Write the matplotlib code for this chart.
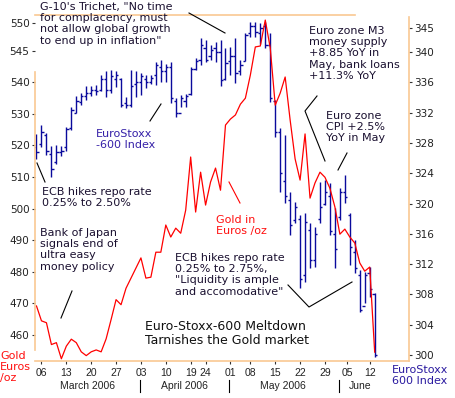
import numpy as np
import matplotlib.pyplot as plt
from matplotlib.lines import Line2D

# Gold in euros per ounce, one value per trading day (3 Mar - 13 Jun 2006)
gold = [469.2, 464.5, 463.9, 457.0, 457.6, 452.5, 456.5, 458.7, 457.6, 454.7,
        453.5, 454.7, 455.3, 454.7, 458.8, 464.9, 471.2, 469.6, 474.8, 478.0,
        481.2, 484.4, 478.0, 478.3, 486.2, 486.2, 494.8, 491.0, 493.8, 492.2,
        499.5, 516.3, 498.9, 511.5, 501.1, 508.4, 512.8, 505.8, 526.4, 528.3,
        529.6, 533.0, 534.9, 542.2, 551.1, 551.4, 559.6, 550.8, 532.7, 536.5,
        541.6, 528.0, 515.7, 509.0, 523.6, 503.3, 508.1, 511.5, 509.9, 506.4,
        500.5, 491.9, 493.5, 491.0, 489.1, 482.8, 480.2, 481.5, 454.6]

# EuroStoxx 600 daily bars
stoxx_high = [329.2, 330.4, 329.3, 327.6, 327.7, 327.6, 330.1, 332.7, 334.2, 334.6,
              335.5, 335.5, 335.6, 337.0, 337.5, 337.6, 337.5, 336.6, 334.1, 337.6,
              337.5, 337.2, 337.0, 337.0, 338.7, 338.9, 338.4, 338.7, 333.9, 334.3,
              334.5, 338.0, 339.2, 341.8, 341.6, 340.9, 341.3, 341.6, 340.5, 340.7,
              341.8, 338.9, 342.5, 344.0, 344.0, 343.8, 344.0, 342.5, 333.7, 330.0,
              329.0, 321.5, 320.2, 318.5, 318.7, 317.4, 316.9, 322.8, 323.1, 322.7,
              319.4, 322.0, 323.8, 318.7, 315.2, 311.2, 311.0, 311.6, 308.2]
stoxx_low = [325.9, 327.5, 326.4, 323.5, 325.2, 326.3, 326.9, 329.7, 331.9, 333.0,
             333.7, 334.2, 334.3, 334.9, 334.1, 334.6, 335.4, 332.7, 332.6, 332.7,
             334.1, 334.3, 335.2, 335.8, 335.6, 336.0, 336.0, 333.3, 331.4, 332.7,
             332.7, 334.3, 337.6, 338.3, 338.7, 338.9, 338.7, 335.5, 336.3, 337.0,
             335.9, 337.0, 338.8, 342.0, 342.0, 341.1, 340.5, 333.4, 328.8, 321.5,
             320.1, 315.8, 317.4, 308.8, 309.6, 311.5, 311.6, 317.4, 319.8, 315.8,
             311.5, 317.8, 320.1, 311.9, 310.8, 305.7, 306.9, 307.7, 299.7]
stoxx_open = [327.5, 327.8, 329.0, 326.5, 325.5, 326.8, 327.5, 330.0, 332.0, 333.4,
              334.2, 334.6, 335.0, 335.0, 336.5, 335.0, 336.5, 336.4, 333.3, 333.0,
              335.8, 336.0, 336.5, 336.0, 337.0, 338.0, 337.5, 338.0, 333.5, 332.0,
              333.5, 334.5, 337.8, 339.0, 340.5, 339.5, 340.5, 340.0, 336.5, 338.8,
              339.5, 337.5, 338.8, 342.5, 343.5, 342.5, 343.5, 341.0, 333.5, 329.5,
              323.0, 320.5, 317.8, 318.0, 310.5, 316.5, 312.5, 318.0, 320.0, 321.0,
              316.0, 318.2, 321.5, 318.5, 313.6, 310.5, 306.5, 310.8, 308.0]
stoxx_close = [326.8, 329.5, 327.0, 324.5, 326.8, 327.0, 329.8, 332.3, 333.5, 334.2,
               334.6, 335.0, 334.8, 336.5, 335.0, 336.8, 337.0, 333.0, 333.0, 335.5,
               336.0, 336.8, 336.0, 336.6, 338.3, 337.5, 338.0, 334.0, 332.0, 334.0,
               334.2, 337.8, 338.8, 341.0, 339.0, 340.3, 340.0, 336.3, 338.5, 339.5,
               337.3, 338.3, 342.2, 343.5, 342.6, 343.2, 341.0, 334.0, 329.4, 324.0,
               321.0, 317.2, 319.5, 310.0, 317.5, 312.6, 316.0, 319.6, 321.5, 316.4,
               314.0, 321.5, 320.8, 314.3, 311.5, 306.0, 310.5, 308.7, 300.0]

day_ticks = [1, 6, 11, 16, 21, 26, 31, 34, 39, 43, 48, 53, 58, 62.5, 67]
day_labels = ["06", "13", "20", "27", "03", "10", "19", "24", "01", "08",
              "15", "22", "29", "05", "12"]
gold_ticks = [460, 470, 480, 490, 500, 510, 520, 530, 540, 549.8, 558.7]
gold_labels = ["460", "470", "480", "490", "500", "510", "520", "530", "540", "545", "550"]
stoxx_ticks = [300, 304, 308, 312, 316, 320, 324, 328, 332, 336, 340, 343.2]
stoxx_labels = ["300", "304", "308", "312", "316", "320", "324", "328", "332", "336", "340", "345"]

W, H = 455, 398
NAVY = "#0a0a9c"
RED = "#ff0000"
EDGE = "#f9c892"
INK = "#1a1030"

fig = plt.figure(figsize=(W / 100, H / 100), dpi=100)
L, R, T, B = 35, 409, 15, 361
ax = fig.add_axes([L / W, 1 - B / H, (R - L) / W, (B - T) / H])
ax2 = ax.twinx()
ax.set_zorder(ax2.get_zorder() + 1)
ax.patch.set_visible(False)

days = np.arange(len(gold))
ax2.vlines(days, stoxx_low, stoxx_high, color=NAVY, lw=1.0)
ax2.hlines(stoxx_open, days - 0.45, days, color=NAVY, lw=1.0)
ax2.hlines(stoxx_close, days, days + 0.45, color=NAVY, lw=1.0)
ax.plot(days, gold, color=RED, lw=0.9)

ax.set_xlim(-0.3, 74.9)
ax.set_ylim(451.8, 561.2)
ax2.set_ylim(299.2, 344.9)

for a in (ax, ax2):
    for s in a.spines.values():
        s.set_visible(False)

ax.set_yticks(gold_ticks)
ax.set_yticklabels(gold_labels)
ax2.set_yticks(stoxx_ticks)
ax2.set_yticklabels(stoxx_labels)
ax.set_xticks(day_ticks)
ax.set_xticklabels(day_labels, fontfamily="Liberation Sans")
ax.tick_params(axis="y", length=2.5, width=0.8, color="#333333", pad=1.5,
               labelsize=7.5, labelcolor="#222222")
ax2.tick_params(axis="y", length=2.5, width=0.8, color="#333333", pad=1.5,
                labelsize=7.5, labelcolor="#222222")
ax.tick_params(axis="x", length=2.5, width=0.8, color="#333333", pad=2.5,
               labelsize=7.5, labelcolor="#222222")

# frame pieces (parts are hidden behind the note boxes in the original)
frame = [([0, 0.856], [1, 1]), ([0, 1], [0, 0]), ([0, 0], [0.032, 0.835]), ([1, 1], [0, 0.994])]
for xs, ys in frame:
    ax.add_line(Line2D(xs, ys, transform=ax.transAxes, color=EDGE, lw=1.2, clip_on=False))


def note(x, y, s, size=8, color=INK, ls=1.15, **kw):
    fig.text(x / W, 1 - y / H, s, fontsize=size, color=color, va="top", ha="left",
             linespacing=ls, **kw)


def pointer(xs, ys, color="black"):
    fig.add_artist(Line2D([v / W for v in xs], [1 - v / H for v in ys], color=color, lw=0.8))


note(40, 2, "G-10's Trichet, \"No time\nfor complacency, must\nnot allow global growth\nto end up in inflation\"")
pointer([189, 225], [13, 33])
note(96, 129, "EuroStoxx\n-600 Index", color="#3520a8")
pointer([150, 161], [121, 104])
note(42, 187, "ECB hikes repo rate\n0.25% to 2.50%")
pointer([45, 37], [182, 163])
note(40, 228, "Bank of Japan\nsignals end of\nultra easy\nmoney policy")
pointer([61, 72], [318, 291])
note(216, 215, "Gold in\nEuros /oz", color="#ff1010")
pointer([229, 240], [182, 203], color=RED)
note(175, 253, "ECB hikes repo rate\n0.25% to 2.75%,\n\"Liquidity is ample\nand accomodative\"")
pointer([288, 309, 352], [285, 307, 282])
note(145, 320, "Euro-Stoxx-600 Meltdown\nTarnishes the Gold market", size=9, ls=1.1, color="#111111")
note(309, 26, "Euro zone M3\nmoney supply\n+8.85 YoY in\nMay, bank loans\n+11.3% YoY")
pointer([317, 305, 325], [96, 111, 161])
note(326, 111, "Euro zone\nCPI +2.5%\nYoY in May")
pointer([338, 347], [170, 153])
note(0, 351, "Gold\nEuros\n/oz", color="#ff1010")
note(392, 365, "EuroStoxx\n600 Index", color="#2a1aa0")

# month labels under the day ticks
for xc, name in [(87, "March 2006"), (184, "April 2006"), (283, "May 2006"), (360, "June")]:
    fig.text(xc / W, 1 - 386 / H, name, fontsize=7.5, color="#222222", ha="center",
             va="center", fontfamily="Liberation Sans")
for xs in [140, 229, 339]:
    pointer([xs, xs], [380, 392])

fig.savefig("out.png", dpi=100)
